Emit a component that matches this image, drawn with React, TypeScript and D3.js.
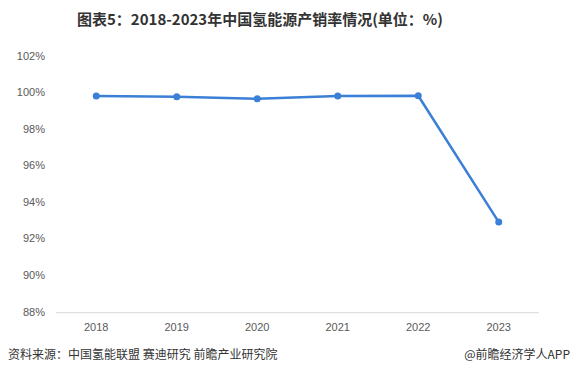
import React from "react";
import * as d3 from "d3";

const years = ["2018", "2019", "2020", "2021", "2022", "2023"];
const rates = [99.8, 99.75, 99.64, 99.8, 99.81, 92.9];
const yTicks = [88, 90, 92, 94, 96, 98, 100, 102];

const W = 576;
const H = 378;
const left = 56;
const right = 539;
const top = 55.7;
const bottom = 311.7;

export default function App() {
  const x = d3.scaleBand<string>().domain(years).range([left, right]);
  const y = d3.scaleLinear().domain([88, 102]).range([bottom, top]);
  const cx = (d: string) => (x(d) as number) + x.bandwidth() / 2;
  const line = d3
    .line<number>()
    .x((_, i) => cx(years[i]))
    .y((v) => y(v));

  return (
    <svg
      width={W}
      height={H}
      style={{ position: "absolute", left: 0, top: 0, background: "#fff" }}
      fontFamily="'Noto Sans CJK SC', 'Liberation Sans', sans-serif"
    >
      <rect width={W} height={H} fill="#fff" />
      <text
        x={260}
        y={25}
        textAnchor="middle"
        fontSize={15}
        fontWeight={700}
        fill="#333"
      >
        图表5：2018-2023年中国氢能源产销率情况(单位：%)
      </text>

      {yTicks.map((t) => (
        <text
          key={t}
          x={45}
          y={y(t)}
          dy="0.35em"
          textAnchor="end"
          fontSize={11}
          fill="#595959"
          fontFamily="'Liberation Sans', sans-serif"
        >
          {t}%
        </text>
      ))}

      <line x1={left} x2={right} y1={bottom + 1} y2={bottom + 1} stroke="#d9d9d9" strokeWidth={1} />

      {years.map((yr) => (
        <text
          key={yr}
          x={cx(yr)}
          y={331}
          textAnchor="middle"
          fontSize={11}
          fill="#595959"
          fontFamily="'Liberation Sans', sans-serif"
        >
          {yr}
        </text>
      ))}

      <path d={line(rates) || ""} fill="none" stroke="#3b7fd6" strokeWidth={2.5} strokeLinejoin="round" />
      {rates.map((v, i) => (
        <circle key={i} cx={cx(years[i])} cy={y(v)} r={3.5} fill="#3b7fd6" />
      ))}

      <text x={8} y={359} fontSize={12} fill="#333">
        资料来源：中国氢能联盟 赛迪研究 前瞻产业研究院
      </text>
      <text x={570} y={359} fontSize={12} fill="#333" textAnchor="end">
        @前瞻经济学人APP
      </text>
    </svg>
  );
}
